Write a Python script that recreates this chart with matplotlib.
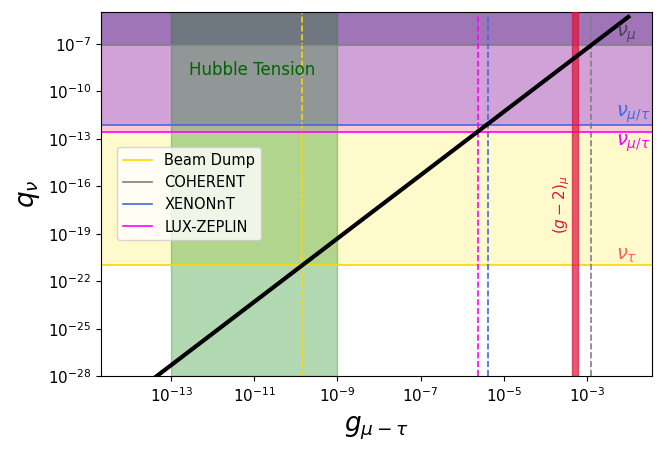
import numpy as np
import matplotlib
matplotlib.use("Agg")
import matplotlib.pyplot as plt

# ---- data ----
experiments = ["Beam Dump", "COHERENT", "XENONnT", "LUX-ZEPLIN"]
exp_colors = ["gold", "gray", "royalblue", "magenta"]
q_bounds = [1e-21, 8e-8, 7e-13, 2.5e-13]        # horizontal limits on q_nu
g_bounds = [1.4e-10, 1.26e-3, 4.1e-6, 2.4e-6]   # vertical limits on g

nu_labels = [r"$\nu_\tau$", r"$\nu_\mu$", r"$\nu_{\mu/\tau}$", r"$\nu_{\mu/\tau}$"]
nu_label_colors = ["tomato", "#4f3f5f", "royalblue", "magenta"]
nu_label_pos = [(10**-2.05, 10**-20.35), (10**-2.05, 10**-6.39),
                (10**-1.89, 10**-11.44), (10**-1.89, 10**-13.28)]

zone_edges = [1e-21, 2.5e-13, 7e-13, 8e-8, 1e-5]
zone_colors = ["#fffacc", "#ffc8d6", "#d0a2d8", "#a075b8"]

hubble_range = [1e-13, 1e-9]
gm2_range = [4.3e-4, 6.2e-4]

g_line = [1e-15, 1e-2]
q_line = [10**-31.3, 10**-5.3]

xticks = [1e-13, 1e-11, 1e-9, 1e-7, 1e-5, 1e-3]
yticks = [1e-28, 1e-25, 1e-22, 1e-19, 1e-16, 1e-13, 1e-10, 1e-7]

# ---- plot ----
fig = plt.figure(figsize=(6.64, 4.5), dpi=100)
ax = fig.add_axes([0.152, 0.164, 0.830, 0.809])
ax.set_xscale("log")
ax.set_yscale("log")

for lo, hi, c in zip(zone_edges[:-1], zone_edges[1:], zone_colors):
    ax.axhspan(lo, hi, color=c, lw=0, zorder=0)

ax.axvspan(hubble_range[0], hubble_range[1], color="green", alpha=0.3, lw=1, zorder=1)
ax.text(9e-12, 2.2e-9, "Hubble Tension", color="darkgreen", fontsize=12,
        ha="center", va="center", zorder=5)

for name, c, q, g in zip(experiments, exp_colors, q_bounds, g_bounds):
    ax.axhline(q, color=c, lw=1.2, zorder=2, label=name)
    ax.axvline(g, color=c, lw=1.2, ls="--", zorder=2)

ax.axvspan(gm2_range[0], gm2_range[1], facecolor="crimson", edgecolor="crimson",
           alpha=0.7, lw=1, zorder=3)
ax.text(10**-3.6, 10**-17.19, r"$(g-2)_\mu$", color="crimson", fontsize=11,
        rotation=90, ha="center", va="center", zorder=5)

for lab, c, (x, y) in zip(nu_labels, nu_label_colors, nu_label_pos):
    ax.text(x, y, lab, color=c, fontsize=14, ha="center", va="center", zorder=5)

ax.plot(g_line, q_line, color="black", lw=3, zorder=4)

ax.set_xlim(10**-14.69, 10**-1.43)
ax.set_ylim(1e-28, 1e-5)
ax.set_xticks(xticks)
ax.set_yticks(yticks)
ax.minorticks_off()
ax.tick_params(labelsize=11)

ax.set_xlabel(r"$g_{\mu-\tau}$", fontsize=19, labelpad=7)
ax.set_ylabel(r"$q_\nu$", fontsize=19)

ax.legend(loc="upper left", bbox_to_anchor=(0.03, 0.63), borderaxespad=0,
          fontsize=10.5)

fig.savefig("out.png", dpi=100)
